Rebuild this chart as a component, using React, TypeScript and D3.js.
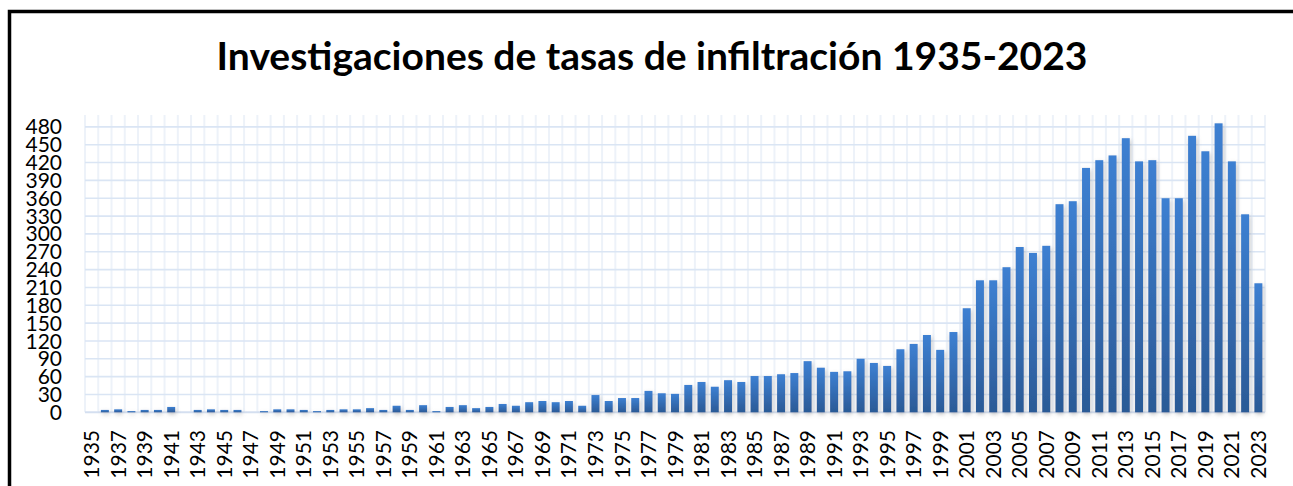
import React from 'react';
import * as d3 from 'd3';

const W = 1293;
const H = 486;

const title = 'Investigaciones de tasas de infiltración 1935-2023';

const years = d3.range(1935, 2024).map(String);

const counts = [
  0, 4, 5, 2, 4, 4, 9, 0, 4, 5,
  4, 4, 0, 2, 5, 5, 4, 2, 4, 5,
  5, 7, 4, 11, 4, 12, 2, 9, 12, 7,
  9, 14, 11, 17, 19, 17, 19, 11, 29, 19,
  24, 24, 36, 32, 31, 46, 51, 43, 54, 51,
  61, 61, 64, 66, 86, 75, 68, 69, 90, 83,
  78, 106, 115, 130, 105, 135, 175, 222, 222, 244,
  278, 268, 280, 350, 355, 411, 424, 432, 461, 422,
  424, 360, 360, 465, 439, 486, 422, 333, 217,
];

const yTicks = d3.range(0, 481, 30);

const margin = { left: 85, right: 1265, top: 115, bottom: 412.3 };

export default function App() {
  const x = d3.scaleBand<string>()
    .domain(years)
    .range([margin.left, margin.right])
    .paddingInner(0.4)
    .paddingOuter(0.2);

  const y = d3.scaleLinear().domain([0, 500]).range([margin.bottom, margin.top]);

  const step = x.step();
  const font = 'Lato, "Open Sans", sans-serif';

  return (
    <svg width={W} height={H} style={{ position: 'absolute', left: 0, top: 0, background: '#fff' }}>
      <defs>
        <linearGradient id="barGrad" x1="0" y1="0" x2="0" y2="1">
          <stop offset="0%" stopColor="#3d80d2" />
          <stop offset="100%" stopColor="#2b5a96" />
        </linearGradient>
        <filter id="shadow" x="-50%" y="-10%" width="200%" height="120%">
          <feDropShadow dx="1" dy="2" stdDeviation="2" floodColor="#7f7f7f" floodOpacity="0.45" />
        </filter>
      </defs>

      <rect x={9.5} y={11.5} width={1400} height={600} fill="#fff" stroke="#000" strokeWidth={3.5} />

      <text x={652} y={70} textAnchor="middle" fontFamily={font} fontWeight={700} fontSize={39} fill="#000">
        {title}
      </text>

      {/* vertical grid at category boundaries */}
      {years.map((yr, i) => (
        <line key={'v' + yr} x1={margin.left + i * step} x2={margin.left + i * step}
          y1={margin.top} y2={margin.bottom} stroke="#edf2f9" strokeWidth={2} />
      ))}
      <line x1={margin.right} x2={margin.right} y1={margin.top} y2={margin.bottom} stroke="#edf2f9" strokeWidth={2} />

      {yTicks.map(t => (
        <line key={'h' + t} x1={margin.left} x2={margin.right} y1={y(t)} y2={y(t)}
          stroke={t === 0 ? '#d4dff0' : '#dae5f4'} strokeWidth={t === 0 ? 2 : 1.6} />
      ))}

      <g filter="url(#shadow)">
        {years.map((yr, i) => counts[i] > 0 && (
          <rect key={'b' + yr} x={x(yr)} y={y(counts[i])} width={x.bandwidth()}
            height={margin.bottom - y(counts[i])} fill="url(#barGrad)" />
        ))}
      </g>

      {yTicks.map(t => (
        <text key={'yl' + t} x={62} y={y(t)} dy="0.36em" textAnchor="end"
          fontFamily={font} fontSize={21} fill="#000">{t}</text>
      ))}

      {years.map((yr, i) => i % 2 === 0 && (
        <text key={'xl' + yr} transform={`translate(${x(yr)! + x.bandwidth() / 2},430) rotate(-90)`}
          dy="0.36em" textAnchor="end" fontFamily={font} fontSize={21} fill="#000">{yr}</text>
      ))}
    </svg>
  );
}
